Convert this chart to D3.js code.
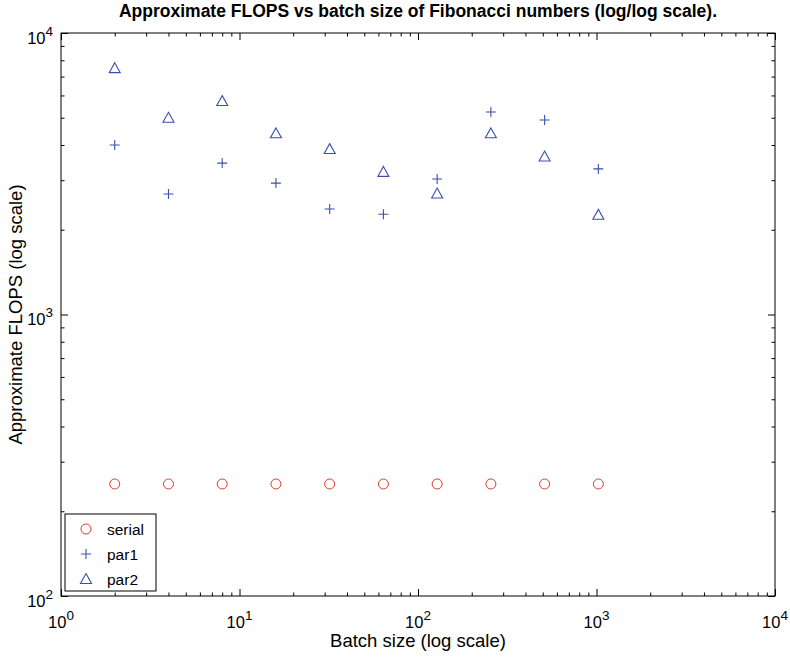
<!DOCTYPE html>
<html>
<head>
<meta charset="utf-8">
<script src="https://cdn.jsdelivr.net/npm/d3@7"></script>
<style>
  body { margin: 0; background: #fff; }
  text { font-family: "Liberation Sans", Arial, sans-serif; fill: #000; }
</style>
</head>
<body>
<div id="chart"></div>
<script>
const batchSizes = [2, 4, 8, 16, 32, 64, 128, 256, 512, 1024]
const serialFlops = [250, 250, 250, 250, 250, 250, 250, 250, 250, 250]
const par1Flops = [4000, 2680, 3450, 2930, 2370, 2270, 3030, 5240, 4910, 3290]
const par2Flops = [7500, 5000, 5730, 4400, 3870, 3210, 2690, 4400, 3640, 2260]
const xMajor = [1, 10, 100, 1000, 10000]
const yMajor = [100, 1000, 10000]
const seriesNames = ['serial', 'par1', 'par2']

const width = 790
const height = 657
const margin = { top: 33, left: 61, right: 15, bottom: 61 }
const plotW = width - margin.left - margin.right
const plotH = height - margin.top - margin.bottom
const red = '#e33a2f'
const blue = '#3b4faf'

let svg = d3.select('#chart').append('svg')
  .attr('width', width)
  .attr('height', height)

let xScale = d3.scaleLog().domain([1, 10000]).range([0, plotW])
let yScale = d3.scaleLog().domain([100, 10000]).range([plotH, 0])

// minor ticks 2..9 of each decade
let minorTicks = function (majors) {
  let out = []
  for (let i = 0; i < majors.length - 1; i++) {
    for (let k = 2; k < 10; k++) out.push(majors[i] * k)
  }
  return out
}
let xMinor = minorTicks(xMajor)
let yMinor = minorTicks(yMajor)

let g = svg.append('g')
  .attr('transform', `translate(${margin.left},${margin.top})`)

// frame
g.append('rect')
  .attr('width', plotW)
  .attr('height', plotH)
  .style('fill', 'none')
  .style('stroke', '#000')
  .style('stroke-width', 1)

let tickLines = function (sel) {
  sel.select('.domain').remove()
  sel.selectAll('line').style('stroke', '#000')
}

// inward ticks on all four sides
g.append('g').attr('transform', `translate(0,${plotH})`)
  .call(d3.axisBottom(xScale).tickValues(xMinor).tickSize(-3.5).tickFormat(''))
  .call(tickLines)
g.append('g').attr('transform', `translate(0,${plotH})`)
  .call(d3.axisBottom(xScale).tickValues(xMajor).tickSize(-7).tickFormat(''))
  .call(tickLines)
g.append('g')
  .call(d3.axisTop(xScale).tickValues(xMinor).tickSize(-3.5).tickFormat(''))
  .call(tickLines)
g.append('g')
  .call(d3.axisTop(xScale).tickValues(xMajor).tickSize(-7).tickFormat(''))
  .call(tickLines)
g.append('g')
  .call(d3.axisLeft(yScale).tickValues(yMinor).tickSize(-3.5).tickFormat(''))
  .call(tickLines)
g.append('g')
  .call(d3.axisLeft(yScale).tickValues(yMajor).tickSize(-7).tickFormat(''))
  .call(tickLines)
g.append('g').attr('transform', `translate(${plotW},0)`)
  .call(d3.axisRight(yScale).tickValues(yMinor).tickSize(-3.5).tickFormat(''))
  .call(tickLines)
g.append('g').attr('transform', `translate(${plotW},0)`)
  .call(d3.axisRight(yScale).tickValues(yMajor).tickSize(-7).tickFormat(''))
  .call(tickLines)

// tick labels as 10^n with superscripts
let addPow = function (t, d) {
  let e = Math.round(Math.log10(d))
  t.append('tspan').text('10').style('font-size', '16.5px')
  t.append('tspan').text(e).attr('dy', -8).style('font-size', '13.5px')
}
g.selectAll('.xlab')
  .data(xMajor)
  .enter()
  .append('text')
  .classed('xlab', true)
  .attr('x', d => xScale(d))
  .attr('y', plotH + 32)
  .attr('text-anchor', 'middle')
  .each(function (d) { addPow(d3.select(this), d) })
g.selectAll('.ylab')
  .data(yMajor)
  .enter()
  .append('text')
  .classed('ylab', true)
  .attr('x', -8)
  .attr('y', d => yScale(d) + 10.5)
  .attr('text-anchor', 'end')
  .each(function (d) { addPow(d3.select(this), d) })

// markers
let trianglePath = function (s) {
  let h = s * 0.9
  return `M0,${-h * 0.55}L${s / 2},${h * 0.45}L${-s / 2},${h * 0.45}Z`
}
let drawCircle = function (sel) {
  sel.append('circle').attr('r', 5)
    .style('fill', 'none').style('stroke', red).style('stroke-width', 1)
}
let drawPlus = function (sel) {
  sel.append('path').attr('d', 'M-5,0H5M0,-5V5')
    .style('fill', 'none').style('stroke', blue).style('stroke-width', 1.1)
}
let drawTriangle = function (sel) {
  sel.append('path').attr('d', trianglePath(11))
    .style('fill', 'none').style('stroke', blue).style('stroke-width', 1.1)
}
let markerFns = [drawCircle, drawPlus, drawTriangle]
let seriesValues = [serialFlops, par1Flops, par2Flops]

seriesValues.forEach((vals, si) => {
  g.selectAll(`.pt${si}`)
    .data(batchSizes.map((b, i) => ({ x: b, y: vals[i] })))
    .enter()
    .append('g')
    .classed(`pt${si}`, true)
    .attr('transform', d => `translate(${xScale(d.x)},${yScale(d.y)})`)
    .each(function () { markerFns[si](d3.select(this)) })
})

// legend
let legend = g.append('g').attr('transform', 'translate(4,481)')
legend.append('rect')
  .attr('width', 91)
  .attr('height', 77)
  .style('fill', '#fff')
  .style('stroke', '#000')
  .style('stroke-width', 1)
seriesNames.forEach((name, i) => {
  let row = legend.append('g').attr('transform', `translate(21,${15 + i * 25})`)
  markerFns[i](row)
  row.append('text')
    .attr('x', 21)
    .attr('y', 5.5)
    .style('font-size', '15.5px')
    .text(name)
})

// title and axis labels
svg.append('text')
  .attr('x', margin.left + plotW / 2)
  .attr('y', 17)
  .attr('text-anchor', 'middle')
  .style('font-size', '17.5px')
  .style('font-weight', 'bold')
  .text('Approximate FLOPS vs batch size of Fibonacci numbers (log/log scale).')
svg.append('text')
  .attr('x', margin.left + plotW / 2)
  .attr('y', 647)
  .attr('text-anchor', 'middle')
  .style('font-size', '18.5px')
  .text('Batch size (log scale)')
svg.append('text')
  .attr('transform', `translate(22,${margin.top + plotH / 2}) rotate(-90)`)
  .attr('text-anchor', 'middle')
  .style('font-size', '18.5px')
  .text('Approximate FLOPS (log scale)')
</script>
</body>
</html>
